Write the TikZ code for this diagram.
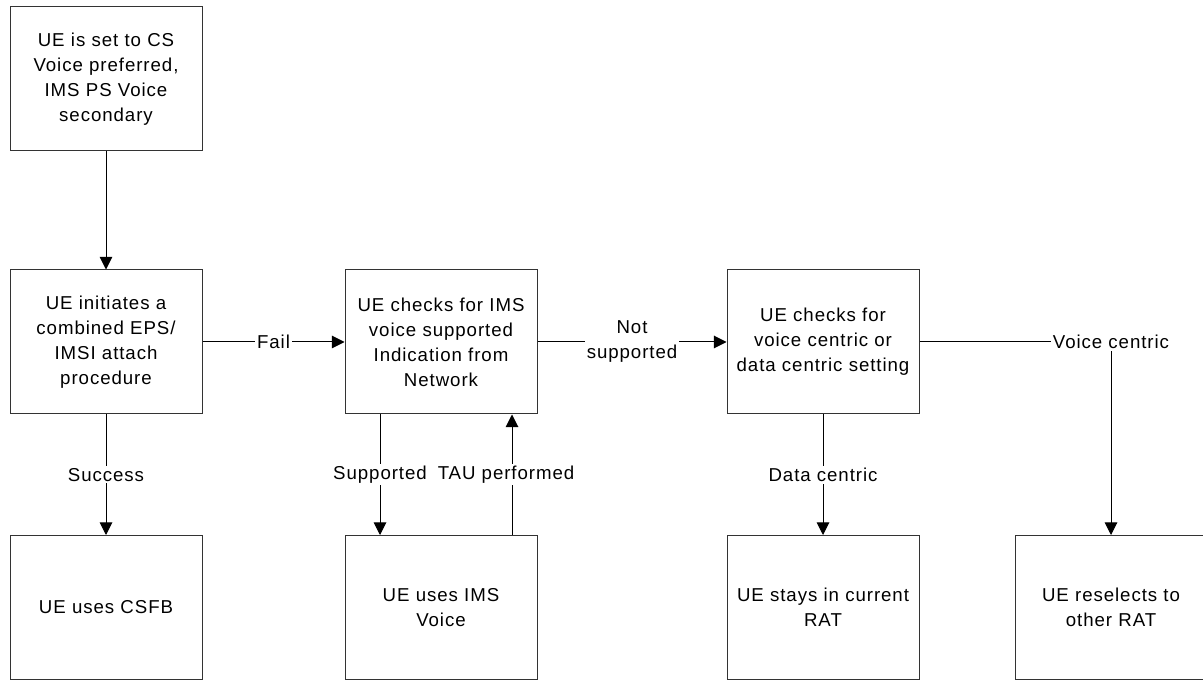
\documentclass[tikz,border=0pt]{standalone}
\usepackage{fontspec}
\setmainfont[LetterSpace=5]{Liberation Sans}
\usetikzlibrary{positioning,arrows.meta}

\begin{document}
\begin{tikzpicture}[x=0.75pt, y=-0.75pt, >={Triangle[length=9.5pt,width=9.5pt]}, line width=0.75pt,
    box/.style={draw=black!80, minimum width=144pt, minimum height=108pt, text width=140pt,
        align=center, inner sep=0pt, font=\fontsize{14}{18.75}\selectfont},
    lbl/.style={fill=white, inner sep=1.5pt, font=\fontsize{14}{18.75}\selectfont}]
    \useasboundingbox (0,0) rectangle (1203,680);

    \node[box] (setting) at (106,79) {UE is set to CS\\Voice preferred,\\IMS PS Voice\\secondary};
    \node[box] (attach) at (106,342) {UE initiates a\\combined EPS/\\IMSI attach\\procedure};
    \node[box] (imscheck) at (441,342) {UE checks for IMS\\voice supported\\Indication from\\Network};
    \node[box] (centric) at (823,342) {UE checks for\\voice centric or\\data centric setting};

    \node[box] (csfb) at (106,607.5) {UE uses CSFB};
    \node[box] (imsvoice) at (441,607.5) {UE uses IMS\\Voice};
    \node[box] (stay) at (823,607.5) {UE stays in current\\RAT};
    \node[box] (reselect) at (1111,607.5) {UE reselects to\\other RAT};

    \draw[->] (setting) -- (attach);
    \draw[->] (attach) -- node[lbl] {Fail} (imscheck);
    \draw[->] (imscheck) -- node[lbl, align=center] {Not\\supported} (centric);
    \draw[->] (centric) -| node[lbl, pos=0.5] {Voice centric} (reselect);
    \draw[->] (attach) -- node[lbl] {Success} (csfb);
    \draw[->] (centric) -- node[lbl] {Data centric} (stay);
    \draw[->] ([xshift=-45.75pt]imscheck.south) -- node[lbl] {Supported} ([xshift=-45.75pt]imsvoice.north);
    \draw[->] ([xshift=53.25pt]imsvoice.north) -- node[lbl, xshift=-4.5pt] {TAU performed} ([xshift=53.25pt]imscheck.south);
\end{tikzpicture}
\end{document}
